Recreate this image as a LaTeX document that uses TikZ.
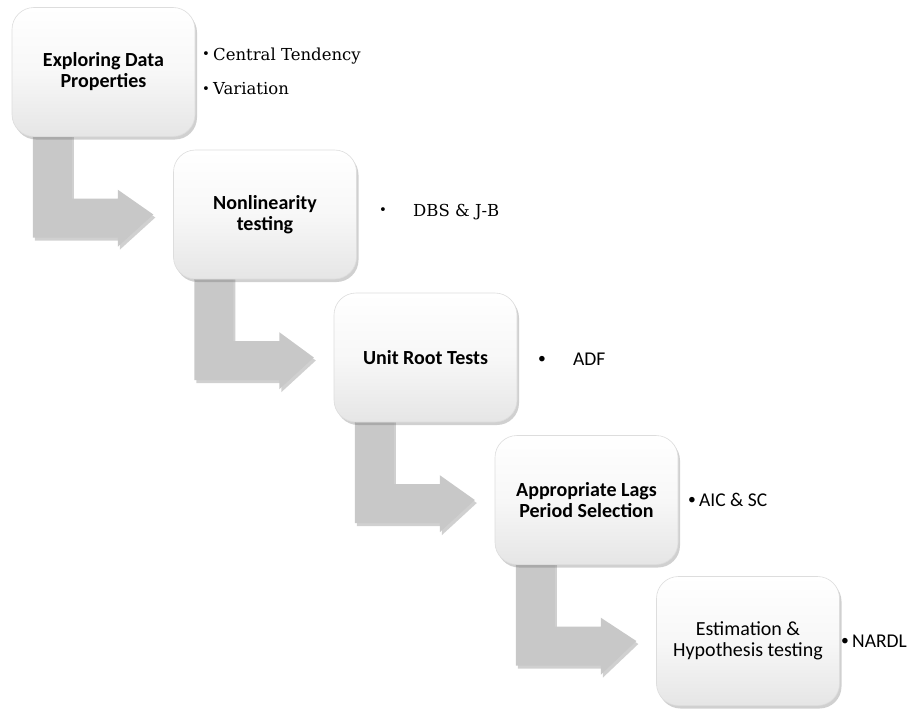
\documentclass[tikz,border=0pt]{standalone}
\usepackage{fontspec}
\setmainfont{DejaVu Serif}
\setsansfont{Carlito}
\usetikzlibrary{calc,shadows}
\definecolor{arrowgray}{HTML}{C8C8C8}
\definecolor{boxedge}{HTML}{DDDDDD}
\tikzset{
  stepbox/.style={rounded corners=22pt, draw=boxedge, line width=0.6pt,
    top color=white, bottom color=black!10, middle color=white!97!black,
    minimum width=183pt, minimum height=129pt, align=center,
    font=\sffamily\fontsize{20}{21}\selectfont,
    drop shadow={opacity=0.3, shadow xshift=2pt, shadow yshift=-3pt, fill=black!60}},
  ghostbox/.style={minimum width=183pt, minimum height=129pt, inner sep=0pt},
  bentarrow/.style={fill=arrowgray, draw=none,
    drop shadow={opacity=0.3, shadow xshift=2pt, shadow yshift=-3pt, fill=black!60}},
  seriflabel/.style={anchor=base west, font=\rmfamily\fontsize{16.5}{18}\selectfont, inner sep=0pt},
  sanslabel/.style={anchor=base west, font=\sffamily\fontsize{19.5}{21}\selectfont, inner sep=0pt},
}
\newcommand{\bentarrowpath}[2]{%
  \path[bentarrow]
    ($(#1.south west)+(21,-4)$) -- ($(#1.south west)+(60,-4)$)
    -- ($(#1.south west)+(60,62)$) -- ($(#1.south west)+(106,62)$)
    -- ($(#1.south west)+(106,53)$) -- ($(#2.west)+(-20,0)$)
    -- ($(#1.south west)+(106,110)$) -- ($(#1.south west)+(106,101)$)
    -- ($(#1.south west)+(21,101)$) -- cycle;}
\newcommand{\bul}[1]{\makebox[#1][l]{\raisebox{0.07em}{\scalebox{0.8}{\textbullet}}}}
\begin{document}
\begin{tikzpicture}[x=1pt,y=-1pt]
\useasboundingbox[fill=white] (0,0) rectangle (916,709);
% box positions
\coordinate (p1) at (103.5,72);
\coordinate (p2) at (265,214.5);
\coordinate (p3) at (425.5,357.5);
\coordinate (p4) at (586.5,500);
\coordinate (p5) at (748,641);
% invisible frames for the arrows (drawn behind the boxes)
\node[ghostbox] (b1) at (p1) {};
\node[ghostbox] (b2) at (p2) {};
\node[ghostbox] (b3) at (p3) {};
\node[ghostbox] (b4) at (p4) {};
\node[ghostbox] (b5) at (p5) {};
\bentarrowpath{b1}{b2}
\bentarrowpath{b2}{b3}
\bentarrowpath{b3}{b4}
\bentarrowpath{b4}{b5}
% visible boxes
\node[stepbox] (s1) at (p1) {\bfseries Exploring Data\\\bfseries Properties};
\node[stepbox] (s2) at (p2) {\bfseries Nonlinearity\\\bfseries testing};
\node[stepbox] (s3) at (p3) {\bfseries Unit Root Tests};
\node[stepbox] (s4) at (p4) {\bfseries Appropriate Lags\\\bfseries Period Selection};
\node[stepbox] (s5) at (p5) {Estimation \&\\Hypothesis testing};
% side labels
\node[seriflabel] (t1a) at (202,60) {\bul{11pt}Central Tendency};
\node[seriflabel] (t1b) at (202,95) {\bul{11pt}Variation};
\node[seriflabel] (t2) at (379,216) {\bul{34pt}DBS \& J-B};
\node[sanslabel] (t3) at (538,365) {\bul{35pt}ADF};
\node[sanslabel] (t4) at (688,506) {\bul{11pt}AIC \& SC};
\node[sanslabel] (t5) at (841,647) {\bul{11pt}NARDL};
\end{tikzpicture}
\end{document}
